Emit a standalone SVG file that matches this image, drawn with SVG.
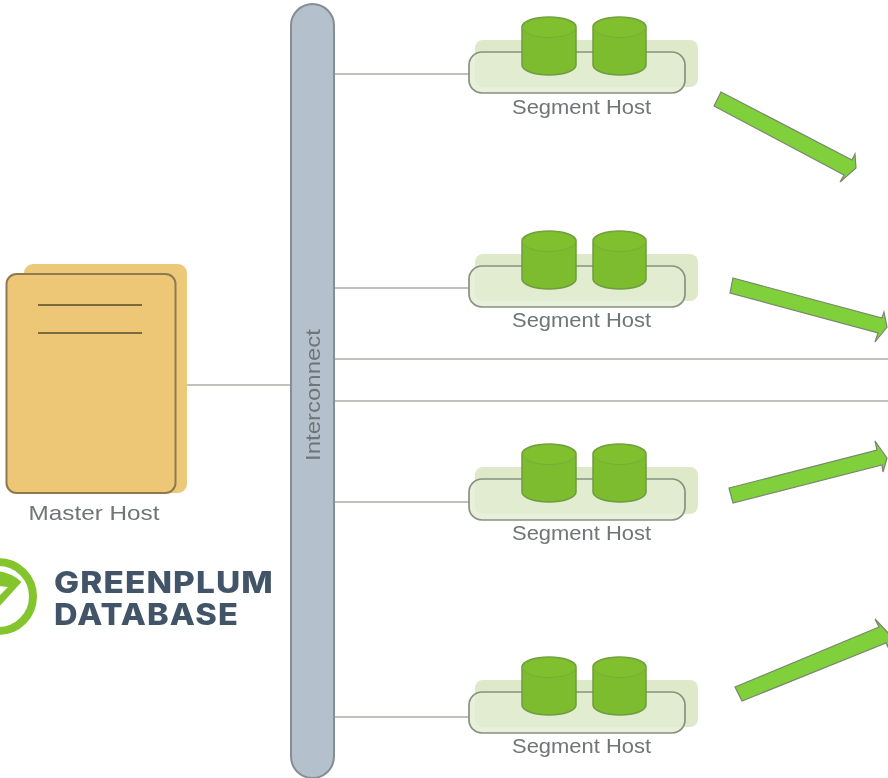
<svg xmlns="http://www.w3.org/2000/svg" width="888" height="778" viewBox="0 0 888 778">
<style>
text{font-family:"Liberation Sans",Arial,sans-serif;fill:#6f7476}
.lbl{font-size:21px;text-anchor:middle}
.link{stroke:#aaada8;stroke-width:1.600;fill:none}
.bg{fill:#dde9c9}
.box{fill:#e2ecd3;fill-opacity:.8;stroke:#87927f;stroke-width:1.700}
.cyl{fill:#7cbc2e;stroke:#6f9c3e;stroke-width:1.500}
.top{fill:#80c02e;stroke:#74a83a;stroke-width:.8}
.arrow{fill:#7fd03a;stroke:#7a8670;stroke-width:1.200;stroke-linejoin:miter}
.logo{font-weight:800;fill:#425468;font-family:Inter,"Liberation Sans",sans-serif;font-size:30px;letter-spacing:1px}
</style>
<defs>
<filter id="soft" x="0" y="0" width="888" height="778" filterUnits="userSpaceOnUse"><feGaussianBlur stdDeviation="0.600"/></filter>
<g id="seg">
<rect class="bg" x="475" y="40" width="223" height="47" rx="8"/>
<rect class="box" x="469" y="52" width="216" height="41" rx="13"/>
<path class="cyl" d="M522 27V65C522 71 535 75 549 75S576 71 576 65V27C576 21 563 17 549 17S522 21 522 27Z"/>
<ellipse class="top" cx="549" cy="27.500" rx="26.500" ry="10"/>
<path class="cyl" d="M593 27V65C593 71 606 75 620 75S646 71 646 65V27C646 21 633 17 619.500 17S593 21 593 27Z"/>
<ellipse class="top" cx="619.500" cy="27.500" rx="26" ry="10"/>
</g>
</defs>
<rect width="888" height="778" fill="#fff"/>
<g filter="url(#soft)">
<g id="connectors">
<path class="link" d="M187 385H291M334 74H469M334 288H469M334 502H469M334 717H469M334 359H888M334 401H888"/>
</g>
<g id="interconnect">
<rect x="291" y="4" width="43" height="774" rx="21.500" fill="#b4c1cc" stroke="#838e95" stroke-width="2"/>
<text transform="translate(320 395) rotate(-90)" class="lbl" textLength="132" lengthAdjust="spacingAndGlyphs">Interconnect</text>
</g>
<g id="master-host">
<rect x="24" y="264" width="163" height="229" rx="9" fill="#ecc978"/>
<rect x="6.500" y="274" width="169" height="219" rx="10" fill="#edc775" stroke="#8f7a50" stroke-width="2"/>
<path d="M38 305H142M38 333H142" stroke="#7a6a3c" stroke-width="2" fill="none"/>
<text x="94" y="520" class="lbl" textLength="131" lengthAdjust="spacingAndGlyphs">Master Host</text>
</g>
<g id="segment-host-1"><use href="#seg"/><text x="581.500" y="114" class="lbl" textLength="139" lengthAdjust="spacingAndGlyphs">Segment Host</text></g>
<g id="segment-host-2"><use href="#seg" y="214"/><text x="581.500" y="327" class="lbl" textLength="139" lengthAdjust="spacingAndGlyphs">Segment Host</text></g>
<g id="segment-host-3"><use href="#seg" y="427"/><text x="581.500" y="540" class="lbl" textLength="139" lengthAdjust="spacingAndGlyphs">Segment Host</text></g>
<g id="segment-host-4"><use href="#seg" y="640"/><text x="581.500" y="753" class="lbl" textLength="139" lengthAdjust="spacingAndGlyphs">Segment Host</text></g>
<g id="arrows">
<polygon class="arrow" points="721,92 852,160 855,154 856,168 840,182 844,175 714,106"/>
<polygon class="arrow" points="733,278 882,318 884,312 887,327 875,342 878,333 730,293"/>
<polygon class="arrow" points="729,488 877,450 875,441 887,458 883,472 882,465 733,503"/>
<polygon class="arrow" points="735,687 879,627 875,619 890,635 888,647 886,643 742,701"/>
</g>
<g id="logo">
<circle cx="-1.500" cy="596.500" r="34.500" fill="#fff" stroke="#84c52f" stroke-width="8"/>
<path d="M-2 571Q12 573 21.500 582L-2 608V597L8 587-2 586Z" fill="#84c52f"/>
<text x="54" y="592.500" class="logo" textLength="220" lengthAdjust="spacingAndGlyphs">GREENPLUM</text>
<text x="54" y="625" class="logo" textLength="185" lengthAdjust="spacingAndGlyphs">DATABASE</text>
</g>
</g>
</svg>
